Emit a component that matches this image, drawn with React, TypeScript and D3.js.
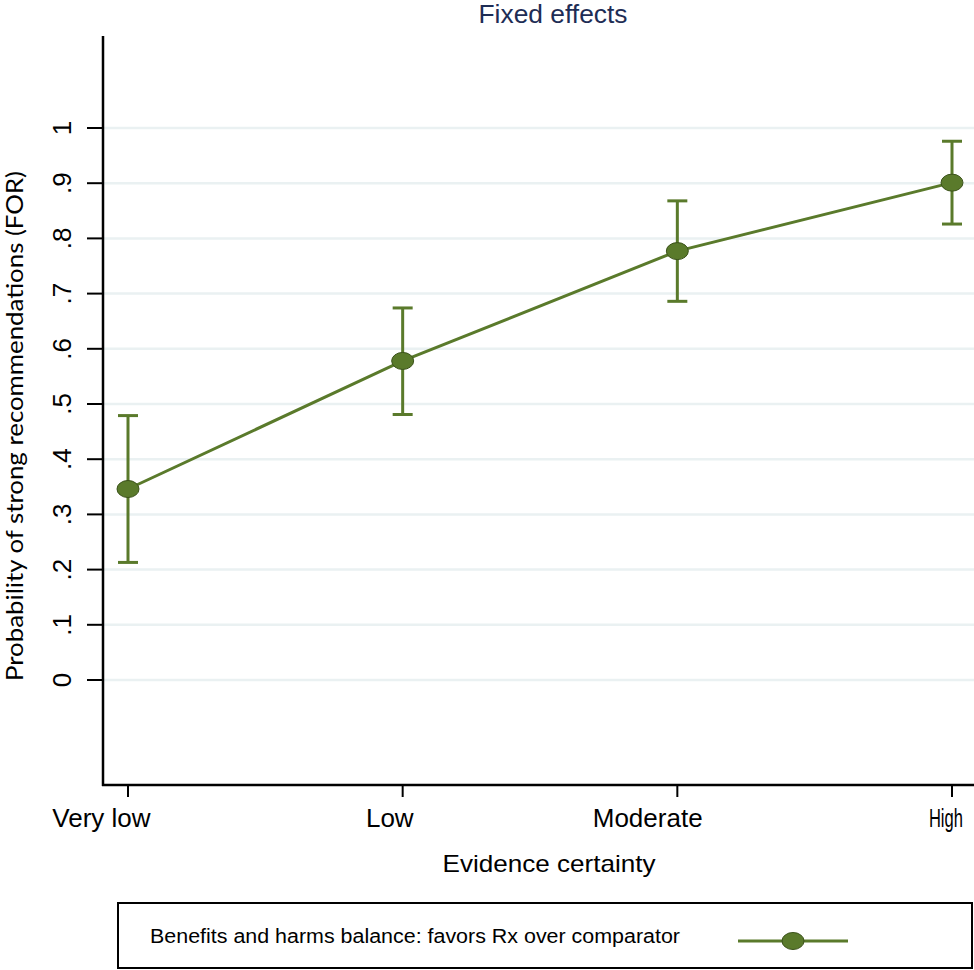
import React, { useLayoutEffect, useRef, useState } from "react";
import * as d3 from "d3";

const categories = ["Very low", "Low", "Moderate", "High"];
const estimates = [0.346, 0.578, 0.777, 0.901];
const lowerCI = [0.213, 0.481, 0.686, 0.826];
const upperCI = [0.479, 0.674, 0.868, 0.976];
const yTicks = [0, 0.1, 0.2, 0.3, 0.4, 0.5, 0.6, 0.7, 0.8, 0.9, 1];
const yTickLabels = ["0", ".1", ".2", ".3", ".4", ".5", ".6", ".7", ".8", ".9", "1"];

const W = 974;
const H = 970;
const GREEN = "#5a7a2b";
const FONT = "Liberation Sans, Arial, sans-serif";

export default function App() {
  const axisX = 103;
  const axisBottom = 785;
  const axisTop = 36;
  const y = d3.scaleLinear().domain([0, 1]).range([680, 128]);
  const x = d3.scalePoint<string>().domain(categories).range([128, 952]);
  const line = d3
    .line<number>()
    .x((_, i) => x(categories[i]) as number)
    .y((d) => y(d));

  const labelRefs = useRef<(SVGTextElement | null)[]>([]);
  const [widths, setWidths] = useState<number[] | null>(null);
  useLayoutEffect(() => {
    const w = labelRefs.current.map((el) => (el ? el.getComputedTextLength() : 0));
    setWidths(w);
  }, []);

  return (
    <svg width={W} height={H} style={{ position: "absolute", left: 0, top: 0, background: "#fff" }}>
      <rect x={0} y={0} width={W} height={H} fill="#fff" />
      <text
        x={553}
        y={23}
        textAnchor="middle"
        fontFamily={FONT}
        fontSize={25}
        fill="#1e2d55"
        textLength={149}
        lengthAdjust="spacingAndGlyphs"
      >
        Fixed effects
      </text>
      {yTicks.map((t) => (
        <line key={"g" + t} x1={axisX} x2={W} y1={y(t)} y2={y(t)} stroke="#eaf1f2" strokeWidth={2.5} />
      ))}
      <line x1={axisX} x2={axisX} y1={axisTop} y2={axisBottom + 1} stroke="#000" strokeWidth={2.5} />
      <line x1={axisX - 1} x2={W} y1={axisBottom} y2={axisBottom} stroke="#000" strokeWidth={2.5} />
      {yTicks.map((t, i) => (
        <g key={"t" + t}>
          <line x1={axisX - 16} x2={axisX} y1={y(t)} y2={y(t)} stroke="#000" strokeWidth={2} />
          <text
            transform={`translate(71,${y(t)}) rotate(-90)`}
            textAnchor="middle"
            fontFamily={FONT}
            fontSize={26}
            fill="#000"
          >
            {yTickLabels[i]}
          </text>
        </g>
      ))}
      <text
        transform={`translate(23,${426}) rotate(-90)`}
        textAnchor="middle"
        fontFamily="Lato, 'Open Sans', sans-serif"
        fontSize={24}
        fill="#000"
        textLength={510}
        lengthAdjust="spacingAndGlyphs"
      >
        Probability of strong recommendations (FOR)
      </text>
      {categories.map((c, i) => {
        const last = i === categories.length - 1;
        const tx = x(c) as number;
        const natural = widths ? widths[i] : 0;
        const w = last ? Math.min(natural, 34) : natural;
        const left = last ? Math.min(tx - 0.68 * w, W - 11 - w) : tx - 0.77 * w;
        return (
          <g key={c}>
            <line x1={tx} x2={tx} y1={axisBottom} y2={axisBottom + 12} stroke="#000" strokeWidth={2} />
            <text
              ref={(el) => {
                labelRefs.current[i] = el;
              }}
              x={widths ? left : tx}
              y={827}
              textAnchor={widths ? "start" : "middle"}
              fontFamily={FONT}
              fontSize={26}
              fill="#000"
              {...(widths && last ? { textLength: w, lengthAdjust: "spacingAndGlyphs" } : {})}
            >
              {c}
            </text>
          </g>
        );
      })}
      <text
        x={549}
        y={872}
        textAnchor="middle"
        fontFamily={FONT}
        fontSize={24}
        fill="#000"
        textLength={213}
        lengthAdjust="spacingAndGlyphs"
      >
        Evidence certainty
      </text>
      {categories.map((c, i) => (
        <g key={"ci" + c} stroke={GREEN} strokeWidth={3}>
          <line x1={x(c)} x2={x(c)} y1={y(lowerCI[i])} y2={y(upperCI[i])} />
          <line x1={(x(c) as number) - 10} x2={(x(c) as number) + 10} y1={y(lowerCI[i])} y2={y(lowerCI[i])} />
          <line x1={(x(c) as number) - 10} x2={(x(c) as number) + 10} y1={y(upperCI[i])} y2={y(upperCI[i])} />
        </g>
      ))}
      <path d={line(estimates) || ""} fill="none" stroke={GREEN} strokeWidth={3} />
      {categories.map((c, i) => (
        <ellipse
          key={"m" + c}
          cx={x(c)}
          cy={y(estimates[i])}
          rx={11}
          ry={8.5}
          fill="#5a7a2b"
          stroke="#3b521a"
          strokeWidth={1}
        />
      ))}
      <rect x={118} y={903} width={854} height={65} fill="#fff" stroke="#000" strokeWidth={2} />
      <text
        x={150}
        y={943}
        fontFamily={FONT}
        fontSize={20}
        fill="#000"
        textLength={530}
        lengthAdjust="spacingAndGlyphs"
      >
        Benefits and harms balance: favors Rx over comparator
      </text>
      <line x1={738} x2={848} y1={941} y2={941} stroke={GREEN} strokeWidth={3} />
      <ellipse cx={793} cy={941} rx={11} ry={8.5} fill="#5a7a2b" stroke="#3b521a" strokeWidth={1} />
    </svg>
  );
}
